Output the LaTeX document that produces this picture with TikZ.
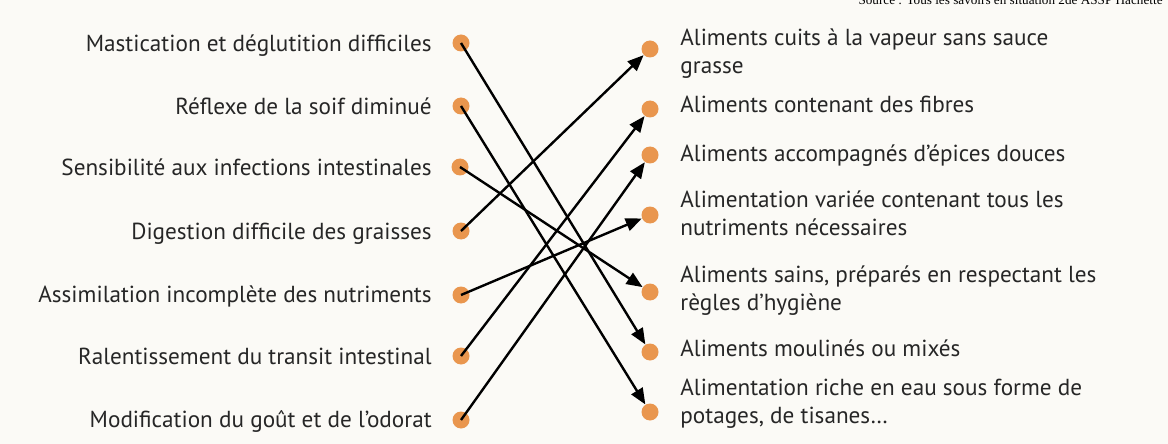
\documentclass[tikz,border=0pt]{standalone}
\usepackage{fontspec}
\setmainfont{PT Sans}
\newfontfamily\srcfont{Liberation Serif}
\usetikzlibrary{arrows.meta}
\definecolor{dotorange}{RGB}{233,150,78}
\definecolor{txtgray}{RGB}{38,38,38}
\definecolor{paper}{RGB}{251,250,246}

\begin{document}
\begin{tikzpicture}[x=0.5pt,y=-0.5pt,
    dot/.style={circle, fill=dotorange, inner sep=0pt, minimum size=8.5pt},
    lab/.style={font=\fontsize{11.6}{14}\selectfont, text=txtgray, inner sep=0pt},
    arr/.style={line width=1.2pt, -{Triangle[length=8pt,width=6.5pt]}}]
      \clip (0,0) rectangle (1168,444);
      \fill[paper] (0,0) rectangle (1168,444);
      \node (src) at (1163,5) [anchor=base east, inner sep=0pt, font=\srcfont\fontsize{6.6}{8}\selectfont] {Source : Tous les savoirs en situation 2de ASSP Hachette};

      % gauche
      \node (l1) at (461,43)  [dot] {};
      \node (l2) at (461,106) [dot] {};
      \node (l3) at (460,167) [dot] {};
      \node (l4) at (461,231) [dot] {};
      \node (l5) at (461,295) [dot] {};
      \node (l6) at (461,356) [dot] {};
      \node (l7) at (461,420) [dot] {};

      \node (t1) at (432,52)  [lab, anchor=base east] {Mastication et déglutition difficiles};
      \node (t2) at (432,115) [lab, anchor=base east] {Réflexe de la soif diminué};
      \node (t3) at (432,176) [lab, anchor=base east] {Sensibilité aux infections intestinales};
      \node (t4) at (432,240) [lab, anchor=base east] {Digestion difficile des graisses};
      \node (t5) at (432,302) [lab, anchor=base east] {Assimilation incomplète des nutriments};
      \node (t6) at (432,364) [lab, anchor=base east] {Ralentissement du transit intestinal};
      \node (t7) at (432,427) [lab, anchor=base east] {Modification du goût et de l’odorat};

      % droite
      \node (r1) at (650,49)  [dot] {};
      \node (r2) at (650,109) [dot] {};
      \node (r3) at (650,155) [dot] {};
      \node (r4) at (650,215) [dot] {};
      \node (r5) at (650,292) [dot] {};
      \node (r6) at (650,352) [dot] {};
      \node (r7) at (650,412) [dot] {};

      % (base = derniere ligne)
      \node (s1) at (680,74)  [lab, anchor=base west, align=left] {Aliments cuits à la vapeur sans sauce\\grasse};
      \node (s2) at (680,113) [lab, anchor=base west] {Aliments contenant des fibres};
      \node (s3) at (680,162) [lab, anchor=base west] {Aliments accompagnés d’épices douces};
      \node (s4) at (680,235) [lab, anchor=base west, align=left] {Alimentation variée contenant tous les\\nutriments nécessaires};
      \node (s5) at (680,310) [lab, anchor=base west, align=left] {Aliments sains, préparés en respectant les\\règles d’hygiène};
      \node (s6) at (680,356) [lab, anchor=base west] {Aliments moulinés ou mixés};
      \node (s7) at (680,423) [lab, anchor=base west, align=left] {Alimentation riche en eau sous forme de\\potages, de tisanes…};

      \draw[arr] (l1.center) to (r6);
      \draw[arr] (l2.center) to (r7);
      \draw[arr] (l3.center) to (r5);
      \draw[arr] (l4.center) to (r1);
      \draw[arr] (l5.center) to (r4);
      \draw[arr] (l6.center) to (r2);
      \draw[arr] (l7.center) to (r3);
\end{tikzpicture}
\end{document}
